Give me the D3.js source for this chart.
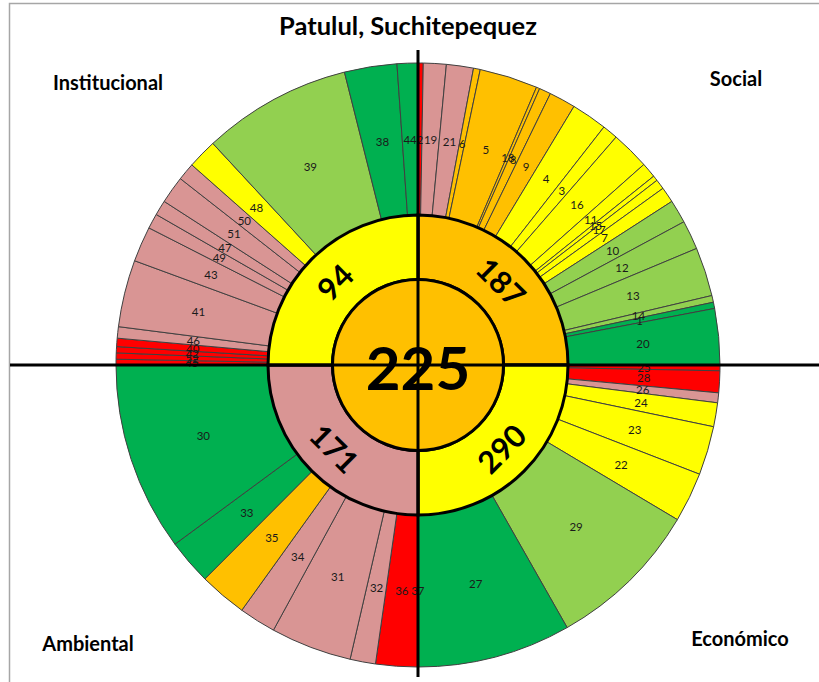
<!DOCTYPE html>
<html>
<head>
<meta charset="utf-8">
<script src="https://cdn.jsdelivr.net/npm/d3@7"></script>
<style>
  body { margin: 0; background: #fff; }
  svg text { font-family: Lato, "Liberation Sans", sans-serif; }
</style>
</head>
<body>
<svg width="819" height="682"></svg>
<script>
// --- data ---
const title = "Patulul, Suchitepequez";
const totalScore = 225;
const totalLevel = "o";

const quadrants = ["Social", "Económico", "Ambiental", "Institucional"];
const quadrantScores = [187, 290, 171, 94];
const quadrantLevels = ["o", "y", "p", "y"];

// outer segments, clockwise inside each quadrant (span = share of the quadrant, in degrees)
const socialIds = [2, 19, 21, 6, 5, 18, 8, 9, 4, 3, 16, 11, 15, 17, 7, 10, 12, 13, 14, 1, 20];
const socialSpan = [1, 4.4, 5.2, 1.3, 11.2, 0.65, 2.25, 5.1, 6.9, 3, 7.4, 2.9, 1, 1.9, 3, 4.5, 5.6, 9.4, 1.3, 1.2, 10.8];
const socialLevel = ["r", "p", "p", "o", "o", "o", "o", "o", "y", "y", "y", "y", "y", "y", "y", "lg", "lg", "lg", "lg", "g", "g"];

const economicoIds = [25, 28, 26, 24, 23, 22, 29, 27];
const economicoSpan = [1.1, 4.2, 1.9, 4.6, 9.4, 9.6, 29.6, 29.6];
const economicoLevel = ["r", "r", "p", "y", "y", "y", "lg", "g"];

const ambientalIds = [37, 36, 32, 31, 34, 35, 33, 30];
const ambientalSpan = [0.1, 8.0, 4.9, 15.6, 7.1, 9.2, 8.7, 36.4];
const ambientalLevel = ["r", "r", "p", "p", "p", "o", "g", "g"];

const institucionalIds = [45, 52, 42, 40, 46, 41, 43, 49, 47, 51, 50, 48, 39, 38, 44];
const institucionalSpan = [1.1, 1.2, 1.2, 1.6, 2.2, 12.9, 6.8, 2.9, 2.9, 5.3, 3.4, 5.7, 28.7, 10.1, 4];
const institucionalLevel = ["r", "r", "r", "r", "p", "p", "p", "p", "p", "p", "p", "y", "lg", "g", "g"];

const levelKeys = ["r", "p", "o", "y", "lg", "g"];
const levelColors = ["#FF0000", "#D99594", "#FFC000", "#FFFF00", "#92D050", "#00B050"];

// --- layout ---
const svg = d3.select("svg");
const width = +svg.attr("width");
const height = +svg.attr("height");
const cx = 418, cy = 365;
const rCenter = 85.5, rMid = 150, rOuter = 302;

const color = d3.scaleOrdinal().domain(levelKeys).range(levelColors);
const toRad = d => d * Math.PI / 180;

// chart frame
svg.append("rect")
    .attr("x", 9.5).attr("y", 3.5)
    .attr("width", 820).attr("height", 700)
    .attr("fill", "none")
    .attr("stroke", "#a6a6a6")
    .attr("stroke-width", 1.5);

const g = svg.append("g").attr("transform", `translate(${cx},${cy})`);

// build outer segments
const groups = [
    [socialIds, socialSpan, socialLevel],
    [economicoIds, economicoSpan, economicoLevel],
    [ambientalIds, ambientalSpan, ambientalLevel],
    [institucionalIds, institucionalSpan, institucionalLevel]
];
let segments = [];
groups.forEach(([ids, spans, levels], q) => {
    const total = d3.sum(spans);
    const angle = d3.scaleLinear().domain([0, total]).range([toRad(q * 90), toRad((q + 1) * 90)]);
    let acc = 0;
    ids.forEach((id, i) => {
        segments.push({
            id: id,
            level: levels[i],
            startAngle: angle(acc),
            endAngle: angle(acc + spans[i])
        });
        acc += spans[i];
    });
});

const outerArc = d3.arc().innerRadius(rMid).outerRadius(rOuter);

g.selectAll(".seg")
    .data(segments)
    .enter()
    .append("path")
    .attr("class", "seg")
    .attr("d", outerArc)
    .attr("fill", d => color(d.level))
    .attr("stroke", "#404040")
    .attr("stroke-width", 1);

// quadrant ring
const quadArc = d3.arc().innerRadius(rCenter).outerRadius(rMid);
const quadData = quadrants.map((name, q) => ({
    name: name,
    score: quadrantScores[q],
    level: quadrantLevels[q],
    startAngle: toRad(q * 90),
    endAngle: toRad((q + 1) * 90)
}));

g.selectAll(".quad")
    .data(quadData)
    .enter()
    .append("path")
    .attr("class", "quad")
    .attr("d", quadArc)
    .attr("fill", d => color(d.level))
    .attr("stroke", "#000")
    .attr("stroke-width", 3);

// center
g.append("circle")
    .attr("r", rCenter)
    .attr("fill", color(totalLevel))
    .attr("stroke", "#000")
    .attr("stroke-width", 3);

g.append("text")
    .attr("text-anchor", "middle")
    .attr("dominant-baseline", "central")
    .attr("y", 2)
    .attr("font-size", 60)
    .attr("font-weight", "bold")
    .text(totalScore);

// quadrant scores, written along the ring
g.selectAll(".quad-label")
    .data(quadData)
    .enter()
    .append("text")
    .attr("class", "quad-label")
    .attr("transform", d => {
        const [x, y] = quadArc.centroid(d);
        const a = (d.startAngle + d.endAngle) / 2 * 180 / Math.PI;
        const rot = ((a + 90) % 180) - 90;
        return `translate(${x},${y}) rotate(${rot})`;
    })
    .attr("text-anchor", "middle")
    .attr("dominant-baseline", "central")
    .attr("font-size", 31)
    .attr("font-weight", "bold")
    .text(d => d.score);

// axes
svg.append("line")
    .attr("x1", 10).attr("x2", width)
    .attr("y1", cy).attr("y2", cy)
    .attr("stroke", "#000").attr("stroke-width", 3);
svg.append("line")
    .attr("x1", cx).attr("x2", cx)
    .attr("y1", 50).attr("y2", 677)
    .attr("stroke", "#000").attr("stroke-width", 3);

// segment numbers
g.selectAll(".seg-label")
    .data(segments)
    .enter()
    .append("text")
    .attr("class", "seg-label")
    .attr("x", d => outerArc.centroid(d)[0])
    .attr("y", d => outerArc.centroid(d)[1])
    .attr("text-anchor", "middle")
    .attr("dominant-baseline", "central")
    .attr("font-size", 11.5)
    .attr("fill", "#1a1a1a")
    .text(d => d.id);

// title and quadrant names
svg.append("text")
    .attr("x", 408).attr("y", 35)
    .attr("text-anchor", "middle")
    .attr("font-size", 25.5)
    .attr("font-weight", "bold")
    .text(title);

const cornerX = [736, 740, 88, 108];
const cornerY = [86, 646, 651, 90];
svg.selectAll(".corner")
    .data(quadrants)
    .enter()
    .append("text")
    .attr("class", "corner")
    .attr("x", (d, i) => cornerX[i])
    .attr("y", (d, i) => cornerY[i])
    .attr("text-anchor", "middle")
    .attr("font-size", 20)
    .attr("font-weight", "bold")
    .text(d => d);
</script>
</body>
</html>
